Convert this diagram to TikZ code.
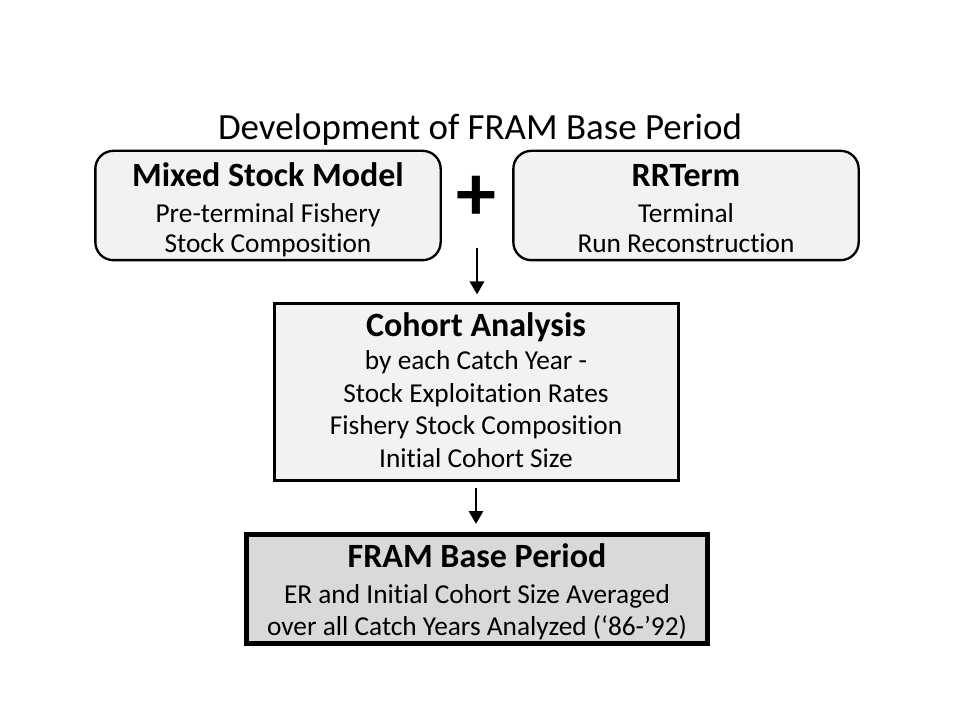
\documentclass[tikz,border=0pt]{standalone}
\usepackage{fontspec}
\setmainfont[RawFeature=-liga]{Carlito}
\usetikzlibrary{arrows.meta, positioning}

\newcommand{\fuentetitulo}{\fontsize{27.7}{32}\selectfont}
\newcommand{\fuentecabeza}{\fontsize{25.5}{30}\selectfont\bfseries}
\newcommand{\arriba}[1]{\rule{0pt}{#1}}
\newcommand{\abajo}{\rule[-6pt]{0pt}{6pt}}

\tikzset{
  caja/.style={draw=black, fill=black!5, align=center, inner sep=0pt,
    font=\fontsize{20.5}{22.5}\selectfont},
  flecha/.style={line width=2.2pt, -{Triangle[width=10.5pt, length=9.75pt]}}
}

\begin{document}
\begin{tikzpicture}[x=0.75pt, y=-0.75pt]
  \useasboundingbox (0,0) rectangle (960,720);

  % Titulo
  \node (titulo) at (480,130) {\fuentetitulo Development of FRAM Base Period};

  % Cajas de arriba
  \node[caja, line width=1.75pt, rounded corners=13.5pt, minimum width=259pt, minimum height=80pt] (mixto) at (268,205.5)
    {{\fuentecabeza\arriba{26.5pt}Mixed Stock Model}\\[4.5pt] Pre-terminal Fishery\\ Stock Composition\abajo};
  \node[caja, line width=1.75pt, rounded corners=13.5pt, minimum width=259pt, minimum height=80pt] (rrterm) at (686,205.5)
    {{\fuentecabeza\arriba{26.5pt}RRTerm}\\[4.5pt] Terminal\\ Run Reconstruction\abajo};
  \node (mas) at (476,198) {\fontsize{60}{60}\selectfont\bfseries +};

  % Cohortes
  \node[caja, line width=2.25pt, minimum width=303pt, minimum height=132pt,
    font=\fontsize{20.5}{24.4}\selectfont] (cohorte) at (476,392)
    {{\fuentecabeza\arriba{21pt}Cohort Analysis}\\ by each Catch Year -\\ Stock Exploitation Rates\\
     Fishery Stock Composition\\ Initial Cohort Size\abajo};

  % Periodo base
  \node[caja, line width=3.75pt, fill=black!15, minimum width=346pt, minimum height=78pt,
    font=\fontsize{20.5}{24}\selectfont] (base) at (477,589)
    {{\fuentecabeza\arriba{24.75pt}FRAM Base Period}\\[3pt] ER and Initial Cohort Size Averaged\\
     over all Catch Years Analyzed (‘86-’92)\abajo};

  % Flechas
  \coordinate (inicio) at (477,248);
  \draw[flecha, shorten >=6pt] (inicio) -- (inicio |- cohorte.north);
  \draw[flecha, shorten <=5pt, shorten >=6pt] (cohorte.south) -- (cohorte.south |- base.north);
\end{tikzpicture}
\end{document}
